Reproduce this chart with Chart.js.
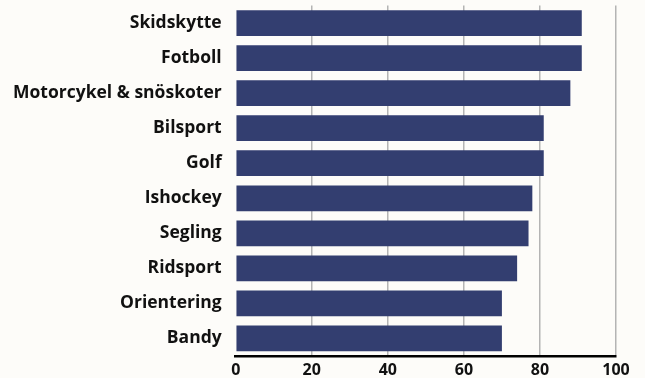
<!DOCTYPE html>
<html><head><meta charset="utf-8">
<script src="https://cdn.jsdelivr.net/npm/chart.js@4/dist/chart.umd.min.js"></script>
<style>html,body{margin:0;padding:0;background:#fdfcf9;}#wrap{width:645px;height:378px;}</style>
</head><body><div id="wrap"><canvas id="c" width="645" height="378"></canvas></div>
<script>
const categories = ["Skidskytte","Fotboll","Motorcykel & snöskoter","Bilsport","Golf","Ishockey","Segling","Ridsport","Orientering","Bandy"];
const values = [91,91,88,81,81,78,77,74,70,70];
const xTicks = [0,20,40,60,80,100];

new Chart(document.getElementById('c'), {
  type: 'bar',
  data: { labels: categories, datasets: [{ data: values, backgroundColor: '#333e70', barPercentage: 0.734, categoryPercentage: 1.0 }] },
  options: {
    indexAxis: 'y', responsive: false, animation: false,
    layout: { padding: { left: 0, right: 29, top: 5.5, bottom: 0 } },
    plugins: { legend: { display: false }, tooltip: { enabled: false } },
    scales: {
      x: {
        min: 0, max: 100,
        afterBuildTicks: s => { s.ticks = xTicks.map(v => ({ value: v })); },
        afterFit: s => { s.height = 22; },
        grid: { color: ctx => ctx.index === 0 ? 'rgba(0,0,0,0)' : '#b4b4b4', lineWidth: 1.5, drawTicks: false },
        border: { display: true, color: '#000', width: 2.5 },
        ticks: { color: '#111', padding: 5, font: { family: 'Open Sans', size: 16, weight: 'bold' } }
      },
      y: {
        afterFit: s => { s.width = 235.7; s.paddingTop = 0; s.paddingBottom = 0; },
        grid: { display: false, drawTicks: false },
        border: { display: false },
        ticks: { color: '#111', padding: 14, font: { family: 'Open Sans', size: 17.5, weight: 'bold' } }
      }
    }
  }
});
</script></body></html>
